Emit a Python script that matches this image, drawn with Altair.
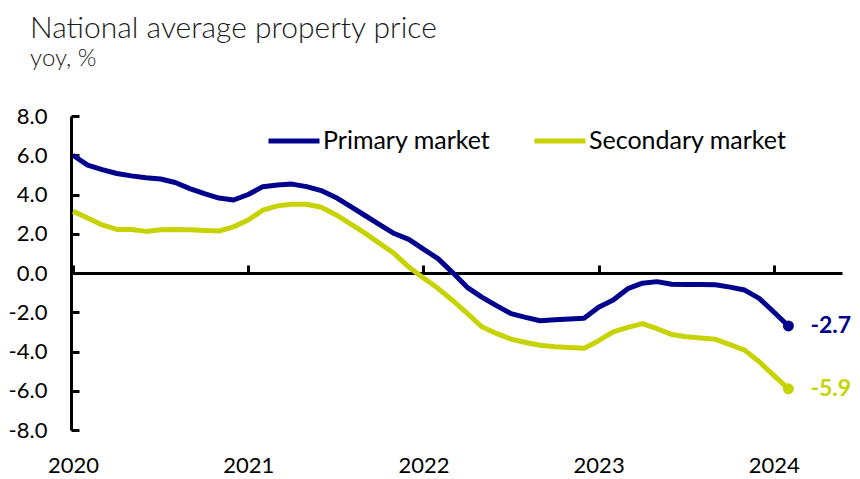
import altair as alt
import pandas as pd

# ---- data ----
months = pd.date_range("2020-01-01", "2024-02-01", freq="MS").strftime("%Y-%m").tolist()

primary = [6.0, 5.5, 5.27, 5.07, 4.95, 4.85, 4.79, 4.61, 4.3, 4.04, 3.82, 3.72,
           4.0, 4.4, 4.48, 4.53, 4.4, 4.2, 3.85, 3.39, 2.93, 2.47, 2.01, 1.71,
           1.22, 0.73, 0.02, -0.73, -1.23, -1.66, -2.07, -2.26, -2.43, -2.38, -2.34, -2.31,
           -1.75, -1.38, -0.8, -0.52, -0.44, -0.57, -0.58, -0.58, -0.6, -0.72, -0.87, -1.29,
           -1.99, -2.7]
secondary = [3.15, 2.8, 2.45, 2.22, 2.22, 2.12, 2.2, 2.22, 2.2, 2.17, 2.14, 2.35,
             2.7, 3.2, 3.42, 3.5, 3.5, 3.35, 2.97, 2.5, 2.03, 1.51, 0.99, 0.3,
             -0.25, -0.78, -1.4, -2.06, -2.74, -3.08, -3.37, -3.54, -3.68, -3.76, -3.8, -3.84,
             -3.45, -3.0, -2.77, -2.58, -2.84, -3.13, -3.25, -3.31, -3.38, -3.65, -3.93, -4.52,
             -5.22, -5.9]

series_names = ["Primary market", "Secondary market"]
series_colors = ["#02028C", "#C6D300"]
year_ticks = [0, 12, 24, 36, 48]
year_labels = ["2020", "2021", "2022", "2023", "2024"]
y_ticks = [-8, -6, -4, -2, 0, 2, 4, 6, 8]

rows = []
for name, vals in zip(series_names, [primary, secondary]):
    for i, (m, v) in enumerate(zip(months, vals)):
        rows.append({"idx": i, "month": m, "series": name, "value": v,
                     "label": f"{v:.1f}"})
df = pd.DataFrame(rows)
last = df[df["idx"] == len(months) - 1].copy()

W, H = 771, 314
FONT = "Lato"

xs = alt.Scale(domain=[-0.137, 52.67], nice=False, zero=False)
ys = alt.Scale(domain=[-8, 8], nice=False, zero=False)
cs = alt.Scale(domain=series_names, range=series_colors)

x_label_expr = f"{year_labels}[indexof({year_ticks}, datum.value)]"
y_label_expr = "replace(format(datum.value, '.1f'), '\u2212', '-')"

lines = alt.Chart(df).mark_line(strokeWidth=5, strokeJoin="round").encode(
    x=alt.X("idx:Q", scale=xs, axis=alt.Axis(
        orient="bottom", values=year_ticks, labelExpr=x_label_expr, domain=False,
        ticks=False, grid=False, labelPadding=25, labelFontSize=22, labelFont=FONT,
        labelColor="black", title=None)),
    y=alt.Y("value:Q", scale=ys, axis=alt.Axis(
        orient="left", values=y_ticks, labelExpr=y_label_expr, domain=True,
        domainColor="black", domainWidth=3, ticks=False, grid=False, labelPadding=24,
        labelFontSize=22, labelFont=FONT, labelColor="black", title=None)),
    color=alt.Color("series:N", scale=cs, legend=alt.Legend(
        orient="none", legendX=195, legendY=-3, direction="horizontal", title=None,
        symbolType="stroke", symbolSize=2601, symbolStrokeWidth=5, labelFontSize=25,
        labelFont=FONT, labelColor="black", labelOffset=1, labelLimit=600,
        columnPadding=33)),
)

points = alt.Chart(last).mark_circle(size=120, opacity=1).encode(
    x=alt.X("idx:Q", scale=xs, axis=alt.Axis(
        orient="top", offset=-H / 2, values=year_ticks, labels=False, ticks=True,
        tickSize=8, tickWidth=3, tickColor="black", domain=True, domainColor="black",
        domainWidth=3, grid=False, title=None)),
    y=alt.Y("value:Q", scale=ys, axis=alt.Axis(
        orient="right", offset=-W, values=y_ticks, labels=False, ticks=True,
        tickSize=8, tickWidth=3, tickColor="black", domain=False, grid=False, title=None)),
    color=alt.Color("series:N", scale=cs, legend=None),
)

labels = alt.Chart(last).mark_text(align="left", baseline="middle", dx=22,
                                   fontSize=23, fontWeight="bold", font=FONT).encode(
    x=alt.X("idx:Q", scale=xs, axis=None),
    y=alt.Y("value:Q", scale=ys, axis=None),
    text=alt.Text("label:N"),
    color=alt.Color("series:N", scale=cs, legend=None),
)

chart = alt.layer(lines, points, labels).resolve_axis(x="independent", y="independent").properties(
    width=W, height=H,
    padding={"left": 0, "top": 6, "right": 0, "bottom": 0},
    background="white",
    title=alt.TitleParams(
        text="National average property price", subtitle="yoy, %", anchor="start",
        font=FONT, fontSize=30, fontWeight=300, color="#1a1a1a",
        subtitleFont=FONT, subtitleFontSize=24, subtitleFontWeight=300,
        subtitleColor="#1a1a1a", subtitlePadding=3, offset=34, dx=22),
).configure_view(strokeWidth=0)

chart.save("out.html", embed_options={"renderer": "svg", "actions": False})
